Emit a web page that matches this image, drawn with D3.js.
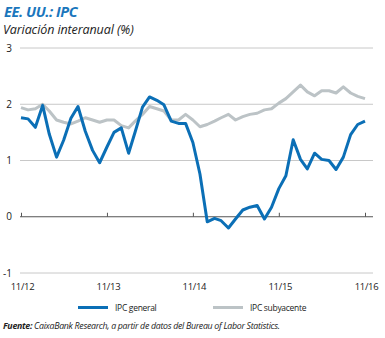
<!DOCTYPE html>
<html><head><meta charset="utf-8">
<script src="https://cdn.jsdelivr.net/npm/d3@7/dist/d3.min.js"></script>
<style>body{margin:0;background:#fff}svg{display:block}</style>
</head><body><svg id="c" width="385" height="338"></svg>
<script>
const months = d3.range(49).map(i => new Date(2012, 10 + i, 1));
const ipcGeneral = [1.76,1.74,1.59,1.98,1.47,1.06,1.36,1.75,1.96,1.52,1.18,0.96,1.24,1.50,1.58,1.13,1.51,1.95,2.13,2.07,1.99,1.70,1.66,1.66,1.32,0.76,-0.09,-0.03,-0.07,-0.20,-0.04,0.12,0.17,0.20,-0.04,0.17,0.50,0.73,1.37,1.02,0.85,1.13,1.02,1.00,0.84,1.06,1.46,1.64,1.70];
const ipcSubyacente = [1.94,1.90,1.92,2.00,1.88,1.72,1.68,1.65,1.70,1.76,1.72,1.68,1.72,1.72,1.62,1.58,1.70,1.82,1.96,1.92,1.88,1.72,1.72,1.82,1.72,1.60,1.64,1.70,1.76,1.82,1.72,1.78,1.82,1.84,1.90,1.92,2.02,2.10,2.22,2.34,2.22,2.15,2.24,2.24,2.20,2.31,2.20,2.14,2.10];
const yTicks = [-1, 0, 1, 2, 3];
const xTickLabels = ["11/12", "11/13", "11/14", "11/15", "11/16"];
const xTickDates = [new Date(2012,10,1), new Date(2013,10,1), new Date(2014,10,1), new Date(2015,10,1), new Date(2016,10,1)];
const seriesNames = ["IPC general", "IPC subyacente"];

const svg = d3.select("#c");
const font = "'Open Sans', 'Noto Sans', sans-serif";
const blue = "#0b6fb6", gray = "#bcc3c6";

const x = d3.scaleTime().domain([months[0], months[48]]).range([21, 365]);
const y = d3.scaleLinear().domain([-1, 3]).range([273, 48]);

svg.append("text").attr("x", 4).attr("y", 17).text("EE. UU.: IPC")
  .attr("font-family", font).attr("font-size", 14.5).attr("font-weight", "bold").attr("font-style", "italic")
  .attr("fill", "#1a76bc").attr("letter-spacing", -0.4);
svg.append("text").attr("x", 3).attr("y", 34).text("Variación interanual (%)")
  .attr("font-family", font).attr("font-size", 12.5).attr("font-style", "italic").attr("fill", "#222").attr("letter-spacing", -0.1);

// gridlines
svg.append("g").selectAll("line").data(yTicks.filter(d => d !== 0)).join("line")
  .attr("x1", 20).attr("x2", 373).attr("y1", d => y(d)).attr("y2", d => y(d))
  .attr("stroke", "#c8c8c8").attr("stroke-width", 1);
svg.append("g").selectAll("text").data(yTicks).join("text")
  .attr("x", 12).attr("y", d => y(d) + 3.5).attr("text-anchor", "end")
  .attr("font-family", font).attr("font-size", 10).attr("fill", "#222").text(d => d);

// zero axis
const xAxis = d3.axisTop(x).tickValues(xTickDates).tickSize(4).tickFormat("");
const gx = svg.append("g").attr("transform", `translate(0,${y(0)})`).call(xAxis);
gx.select(".domain").attr("d", `M20,0H373`).attr("stroke", "#555");
gx.selectAll(".tick line").attr("stroke", "#555");

svg.append("g").selectAll("text").data(xTickDates).join("text")
  .attr("x", d => x(d) + 1.5).attr("y", 290).attr("text-anchor", "middle")
  .attr("font-family", font).attr("font-size", 9.5).attr("letter-spacing", -0.3).attr("fill", "#222")
  .text((d, i) => xTickLabels[i]);

const line = d3.line().x((d, i) => x(months[i])).y(d => y(d)).curve(d3.curveLinear);
svg.append("path").datum(ipcSubyacente).attr("d", line).attr("fill", "none")
  .attr("stroke", gray).attr("stroke-width", 3).attr("stroke-linejoin", "round");
svg.append("path").datum(ipcGeneral).attr("d", line).attr("fill", "none")
  .attr("stroke", blue).attr("stroke-width", 3).attr("stroke-linejoin", "round");

// legend
const leg = [{x: 78, tx: 115, c: blue}, {x: 213, tx: 250, c: gray}];
leg.forEach((l, i) => {
  svg.append("line").attr("x1", l.x).attr("x2", l.x + 30).attr("y1", 307.5).attr("y2", 307.5)
    .attr("stroke", l.c).attr("stroke-width", 3);
  svg.append("text").attr("x", l.tx).attr("y", 310.5).text(seriesNames[i])
    .attr("font-family", font).attr("font-size", 8.5).attr("letter-spacing", -0.3).attr("fill", "#222");
});

const src = svg.append("text").attr("x", 3).attr("y", 329)
  .attr("font-family", font).attr("font-size", 8.8).attr("font-style", "italic").attr("fill", "#222").attr("letter-spacing", -0.3);
src.append("tspan").attr("font-weight", "bold").text("Fuente:");
src.append("tspan").text(" CaixaBank Research, a partir de datos del Bureau of Labor Statistics.");
</script></body></html>
